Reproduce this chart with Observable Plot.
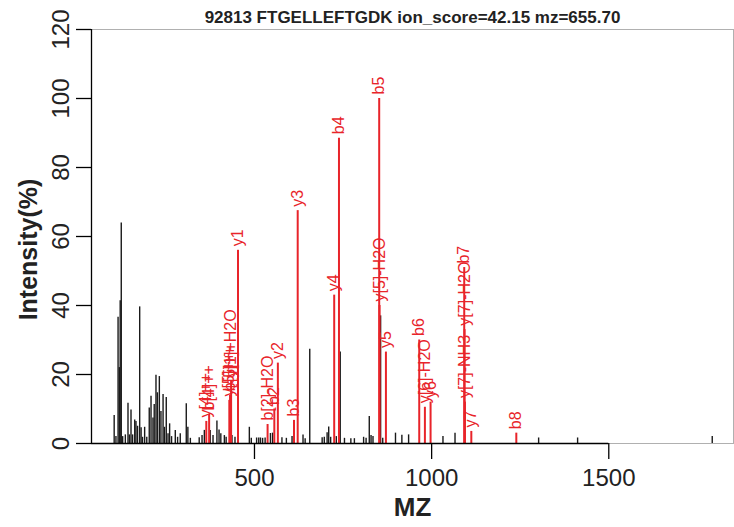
<!DOCTYPE html>
<html><head><meta charset="utf-8">
<script src="https://cdn.jsdelivr.net/npm/d3@7"></script>
<script src="https://cdn.jsdelivr.net/npm/@observablehq/plot@0.6"></script>
<style>body{margin:0;background:#fff;}</style>
</head><body><div id="chart"></div>
<script>
const titleText = "92813 FTGELLEFTGDK ion_score=42.15 mz=655.70";
const xLabel = "MZ";
const yLabel = "Intensity(%)";
const xTicks = [500, 1000, 1500];
const yTicks = [0, 20, 40, 60, 80, 100, 120];

// unannotated peaks
const blackMz = [104,109,115,118.5,121,124,128,135.5,143,147,151.5,156,162,165.5,170,176,180,184,190,196,203,208,213.5,217,222,226,231.5,236,242,246,251,256,260.5,266,276.5,283,290.5,307.5,312,319,344,352,358.5,375,383,394,400,405,415,420,436.5,445,485.5,491,506,512,517,523,530,545,551,577.5,590,606,637,643,656,691,697,705,709.5,715,731,742,754,772,782,808,815,824,829,834.5,856,862,898,916,935,1032,1066,1302,1412,1792];
const blackInt = [8.1,2,36.6,22,41.4,63.9,2,2.5,11.7,2.5,9.7,2.5,6.8,6.4,5,39.6,4.6,1.8,4.7,1.8,10.3,13.7,7.4,11.3,19.8,14.7,19.4,9.3,14.2,4.7,13.3,2.8,5.7,2,3.8,1.8,2.8,11.5,4.7,1.5,1.7,2.3,3.8,3.8,2.3,6.5,3.9,2.8,2.3,1.8,2.3,1.8,4.7,1.5,1.6,1.6,1.6,1.5,1.6,2.9,3,1.7,1.5,2,2.5,1.4,27.3,1.7,1.8,3.1,4.8,1.8,2,26.5,1.5,1.4,1.4,1.8,1.5,7.8,2.3,2,37,1.5,3,2.4,2.5,2,3,1.6,1.6,2];

// annotated fragment ions
const ionLabel = ["y[4]++","b[4]++","y[5]++","b[5]++","y[1]+H2O","y1","b[2]-H2O","b2","y2","b3","y3","y4","b4","y[5]-H2O","b5","y5","b6","y[6]-H2O","y6","y[7]-NH3","y[7]-H2O","b7","y7","b8"];
const ionMz = [364,372,429,431,434,453.5,537,556,566,611.5,622,725,738.5,853,852,871,965,981,997,1094,1093,1092,1112,1239];
const ionInt = [6.4,8.4,12.5,14,18,56,5.5,10,23.3,6.7,67.5,43,88.5,40,100,26.5,30,10.5,12,12,33,51,3.5,3];

const blackPeaks = blackMz.map((m, i) => ({mz: m, int: blackInt[i]}));
const ions = ionMz.map((m, i) => ({mz: m, int: ionInt[i], label: ionLabel[i]}));

const RED = "#e8242a";
const font = "'Liberation Sans', Arial, Helvetica, sans-serif";

const chart = Plot.plot({
  width: 734,
  height: 527,
  marginLeft: 91,
  marginRight: 1,
  marginTop: 29,
  marginBottom: 84,
  style: {fontFamily: font, background: "#fff", color: "#000"},
  x: {domain: [40, 1852], axis: null},
  y: {domain: [0, 120], axis: null},
  marks: [
    Plot.frame({stroke: "#b0b0b0", strokeWidth: 1}),
    Plot.ruleX(blackPeaks, {x: "mz", y: "int", stroke: "#1a1a1a", strokeWidth: 1.4}),
    Plot.ruleX(ions, {x: "mz", y: "int", stroke: RED, strokeWidth: 2}),
    Plot.text(ions, {x: "mz", y: "int", text: "label", rotate: -90, textAnchor: "start", lineAnchor: "middle", dy: -4, fill: RED, fontSize: 16}),
    Plot.ruleY([0], {x1: 40, x2: xTicks[xTicks.length - 1], stroke: "#000", strokeWidth: 1.3}),
    Plot.ruleX([40], {y1: yTicks[0], y2: yTicks[yTicks.length - 1], stroke: "#000", strokeWidth: 1.3}),
    Plot.axisX(xTicks, {anchor: "bottom", tickSize: 16, fill: "none", label: null, strokeWidth: 1.3}),
    Plot.axisY(yTicks, {anchor: "left", tickSize: 15, fill: "none", label: null, strokeWidth: 1.3}),
    Plot.text(xTicks, {x: d => d, text: d => String(d), frameAnchor: "bottom", textAnchor: "middle", lineAnchor: "middle", dy: 35, fontSize: 24, fill: "#222"}),
    Plot.text(yTicks, {y: d => d, text: d => String(d), frameAnchor: "left", textAnchor: "middle", lineAnchor: "middle", dx: -30, rotate: -90, fontSize: 24, fill: "#222"}),
    Plot.text([xLabel], {text: d => d, frameAnchor: "bottom", textAnchor: "middle", lineAnchor: "middle", dy: 64, fontSize: 26, fontWeight: "bold", fill: "#222"}),
    Plot.text([yLabel], {text: d => d, frameAnchor: "left", textAnchor: "middle", lineAnchor: "middle", dx: -63, dy: 13, rotate: -90, fontSize: 25, fontWeight: "bold", fill: "#222"}),
    Plot.text([titleText], {text: d => d, frameAnchor: "top", textAnchor: "middle", lineAnchor: "middle", dy: -12, fontSize: 17, fontWeight: "bold", fill: "#222"})
  ]
});
document.getElementById("chart").appendChild(chart);
</script>
</body></html>
